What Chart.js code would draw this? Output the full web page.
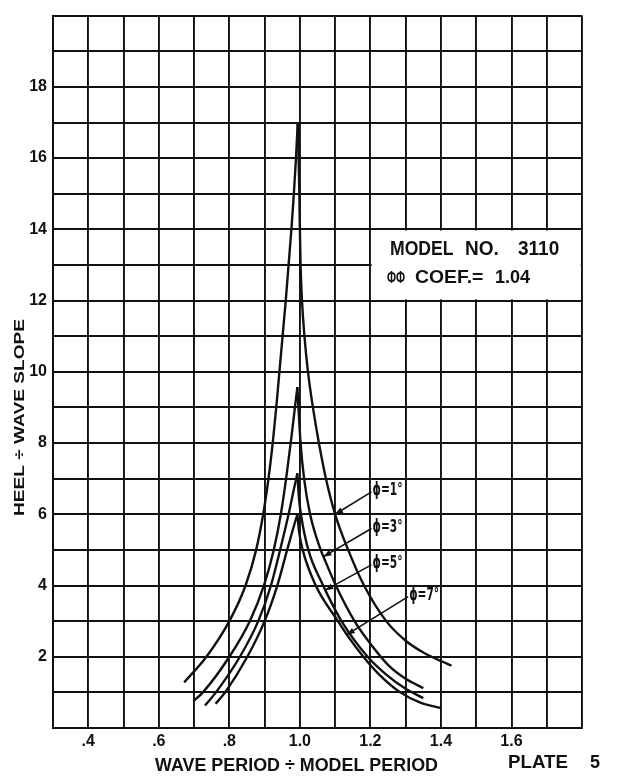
<!DOCTYPE html>
<html lang="en">
<head>
<meta charset="UTF-8">
<title>Plate 5 - Model No. 3110</title>
<script src="https://cdn.jsdelivr.net/npm/chart.js"></script>
<style>
  body { margin: 0; background: #fff; }
  canvas { display: block; }
</style>
</head>
<body>
<canvas id="plate5" width="617" height="779"></canvas>
<script>
// heel / wave slope against period ratio
// each curve is split at its peak so the cusp stays sharp
var phi1Left  = [[0.672,1.28],[0.735,2.0],[0.800,3.0],[0.846,4.0],[0.876,5.0],[0.896,6.0],[0.911,7.0],[0.923,8.0],[0.933,9.0],[0.942,10.0],[0.951,11.0],[0.960,12.0],[0.968,13.0],[0.976,14.0],[0.983,15.0],[0.989,16.0],[0.994,17.0]];
var phi1Right = [[0.994,17.0],[0.9965,16.0],[0.9985,15.0],[1.000,14.0],[1.002,13.0],[1.006,12.0],[1.013,11.0],[1.023,10.0],[1.037,9.0],[1.054,8.0],[1.074,7.0],[1.100,6.0],[1.137,5.0],[1.182,4.0],[1.245,3.0],[1.300,2.45],[1.350,2.12],[1.400,1.88],[1.430,1.75]];

var phi3Left  = [[0.698,0.75],[0.725,1.0],[0.800,2.0],[0.858,3.0],[0.898,4.0],[0.926,5.0],[0.946,6.0],[0.961,7.0],[0.974,8.0],[0.986,9.0],[0.993,9.57]];
var phi3Right = [[0.993,9.57],[0.996,9.0],[1.002,8.0],[1.012,7.0],[1.029,6.0],[1.059,5.0],[1.067,4.81],[1.102,4.0],[1.155,3.0],[1.205,2.3],[1.252,1.75],[1.300,1.38],[1.350,1.12]];

var phi5Left  = [[0.731,0.63],[0.762,1.0],[0.830,2.0],[0.882,3.0],[0.918,4.0],[0.944,5.0],[0.968,6.0],[0.983,6.7],[0.993,7.15]];
var phi5Right = [[0.993,7.15],[0.997,6.5],[1.003,6.0],[1.024,5.0],[1.066,4.0],[1.072,3.87],[1.118,3.0],[1.192,2.0],[1.245,1.5],[1.300,1.1],[1.350,0.84]];

var phi7Left  = [[0.761,0.68],[0.788,1.0],[0.851,2.0],[0.900,3.0],[0.936,4.0],[0.964,5.0],[0.981,5.6],[0.993,6.0]];
var phi7Right = [[0.993,6.0],[0.998,5.5],[1.008,5.0],[1.045,4.0],[1.108,3.0],[1.133,2.62],[1.180,2.0],[1.225,1.5],[1.285,1.0],[1.340,0.72],[1.400,0.56]];

var xTickValues = [0.4, 0.6, 0.8, 1.0, 1.2, 1.4, 1.6];
var xTickLabels = ['.4', '.6', '.8', '1.0', '1.2', '1.4', '1.6'];
var yTickValues = [2, 4, 6, 8, 10, 12, 14, 16, 18];

// curve labels: text, where the arrow starts (label side) and where it points on the curve
var curveLabels = [
  { text: 'ϕ=1°', lx: 1.203, ly: 6.63, tx: 1.100, ty: 6.0 },
  { text: 'ϕ=3°', lx: 1.203, ly: 5.60, tx: 1.067, ty: 4.81 },
  { text: 'ϕ=5°', lx: 1.203, ly: 4.58, tx: 1.072, ty: 3.87 },
  { text: 'ϕ=7°', lx: 1.307, ly: 3.69, tx: 1.133, ty: 2.62 }
];

var INK = '#111';
var FONT = '"Liberation Sans", Arial, sans-serif';

function toPoints(arr) {
  return arr.map(function (p) { return { x: p[0], y: p[1] }; });
}

function curve(arr) {
  return {
    data: toPoints(arr),
    showLine: true,
    borderColor: INK,
    borderWidth: 2.4,
    pointRadius: 0,
    fill: false,
    cubicInterpolationMode: 'monotone'
  };
}

// text with its left edge at x, centred on y, stretched by sx horizontally
function word(ctx, text, x, y, font, sx) {
  ctx.save();
  ctx.font = font;
  ctx.textBaseline = 'middle';
  ctx.textAlign = 'left';
  ctx.translate(x, y);
  ctx.scale(sx || 1, 1);
  ctx.fillText(text, 0, 0);
  ctx.restore();
}

// same, but squeezed/stretched to a given width
function fitText(ctx, text, x, y, w, font) {
  ctx.save();
  ctx.font = font;
  var m = ctx.measureText(text).width;
  ctx.restore();
  word(ctx, text, x, y, font, w / m);
}

var plateNotes = {
  id: 'plateNotes',
  beforeDatasetsDraw: function (chart) {
    var ctx = chart.ctx, xs = chart.scales.x, ys = chart.scales.y;
    // white panel for the model caption
    var x0 = xs.getPixelForValue(1.2) + 1.2, x1 = xs.getPixelForValue(1.8) - 1.2;
    var y0 = ys.getPixelForValue(14) + 1.2, y1 = ys.getPixelForValue(12) - 1.2;
    ctx.save();
    ctx.fillStyle = '#fff';
    ctx.fillRect(x0, y0, x1 - x0, y1 - y0);
    ctx.restore();
  },
  afterDraw: function (chart) {
    var ctx = chart.ctx, xs = chart.scales.x, ys = chart.scales.y;
    ctx.save();
    ctx.fillStyle = INK;
    ctx.strokeStyle = INK;

    // caption, word by word to keep the wide hand-lettered spacing
    var cap = 'bold 20px ' + FONT;
    word(ctx, 'MODEL', 390, 249, cap, 0.88);
    word(ctx, 'NO.', 465, 249, cap, 0.95);
    word(ctx, '3110', 518, 249, cap, 0.95);
    fitText(ctx, 'ΦΦ', 387, 279, 18, 'bold 16px ' + FONT);
    word(ctx, 'COEF.=', 415, 278, 'bold 19px ' + FONT, 1.02);
    word(ctx, '1.04', 495, 278, 'bold 19px ' + FONT, 0.95);

    curveLabels.forEach(function (c) {
      var sx = xs.getPixelForValue(c.lx), sy = ys.getPixelForValue(c.ly);
      var tx = xs.getPixelForValue(c.tx), ty = ys.getPixelForValue(c.ty);
      ctx.lineWidth = 1.6;
      ctx.beginPath();
      ctx.moveTo(sx, sy);
      ctx.lineTo(tx, ty);
      ctx.stroke();
      var a = Math.atan2(ty - sy, tx - sx);
      ctx.beginPath();
      ctx.moveTo(tx, ty);
      ctx.lineTo(tx - 8 * Math.cos(a) + 3 * Math.sin(a), ty - 8 * Math.sin(a) - 3 * Math.cos(a));
      ctx.lineTo(tx - 8 * Math.cos(a) - 3 * Math.sin(a), ty - 8 * Math.sin(a) + 3 * Math.cos(a));
      ctx.closePath();
      ctx.fill();
      fitText(ctx, c.text, sx + 1, sy - 1, 30, 'bold 17px "DejaVu Sans", ' + FONT);
    });

    // axis titles and plate number
    fitText(ctx, 'WAVE PERIOD ÷ MODEL PERIOD', 155, 766, 283, 'bold 18px ' + FONT);
    word(ctx, 'PLATE', 508, 763, 'bold 18px ' + FONT, 1.04);
    word(ctx, '5', 590, 763, 'bold 18px ' + FONT, 1);
    ctx.save();
    ctx.translate(20, 418);
    ctx.rotate(-Math.PI / 2);
    fitText(ctx, 'HEEL ÷ WAVE SLOPE', -98, 0, 197, 'bold 14px ' + FONT);
    ctx.restore();

    ctx.restore();
  }
};

var tickFont = { family: FONT, size: 16, weight: 'bold' };

new Chart(document.getElementById('plate5'), {
  type: 'scatter',
  data: {
    datasets: [
      curve(phi1Left), curve(phi1Right),
      curve(phi3Left), curve(phi3Right),
      curve(phi5Left), curve(phi5Right),
      curve(phi7Left), curve(phi7Right)
    ]
  },
  options: {
    responsive: false,
    animation: false,
    layout: { padding: { top: 14, right: 35, left: 0, bottom: 0 } },
    plugins: { legend: { display: false }, tooltip: { enabled: false } },
    scales: {
      x: {
        type: 'linear',
        min: 0.3,
        max: 1.8,
        afterFit: function (s) { s.height = 51; },
        grid: { color: INK, lineWidth: 1.9, drawTicks: false },
        border: { color: INK, width: 2 },
        ticks: {
          stepSize: 0.1,
          autoSkip: false,
          maxRotation: 0,
          padding: 4,
          color: INK,
          font: tickFont,
          callback: function (v) {
            for (var i = 0; i < xTickValues.length; i++) {
              if (Math.abs(xTickValues[i] - v) < 1e-6) return xTickLabels[i];
            }
            return '';
          }
        }
      },
      y: {
        type: 'linear',
        min: 0,
        max: 20,
        afterFit: function (s) { s.width = 53; },
        grid: { color: INK, lineWidth: 1.9, drawTicks: false },
        border: { color: INK, width: 2 },
        ticks: {
          stepSize: 1,
          autoSkip: false,
          padding: 6,
          color: INK,
          font: tickFont,
          callback: function (v) {
            return yTickValues.indexOf(Math.round(v)) >= 0 && Math.abs(v - Math.round(v)) < 1e-6 ? String(Math.round(v)) : '';
          }
        }
      }
    }
  },
  plugins: [plateNotes]
});
</script>
</body>
</html>
